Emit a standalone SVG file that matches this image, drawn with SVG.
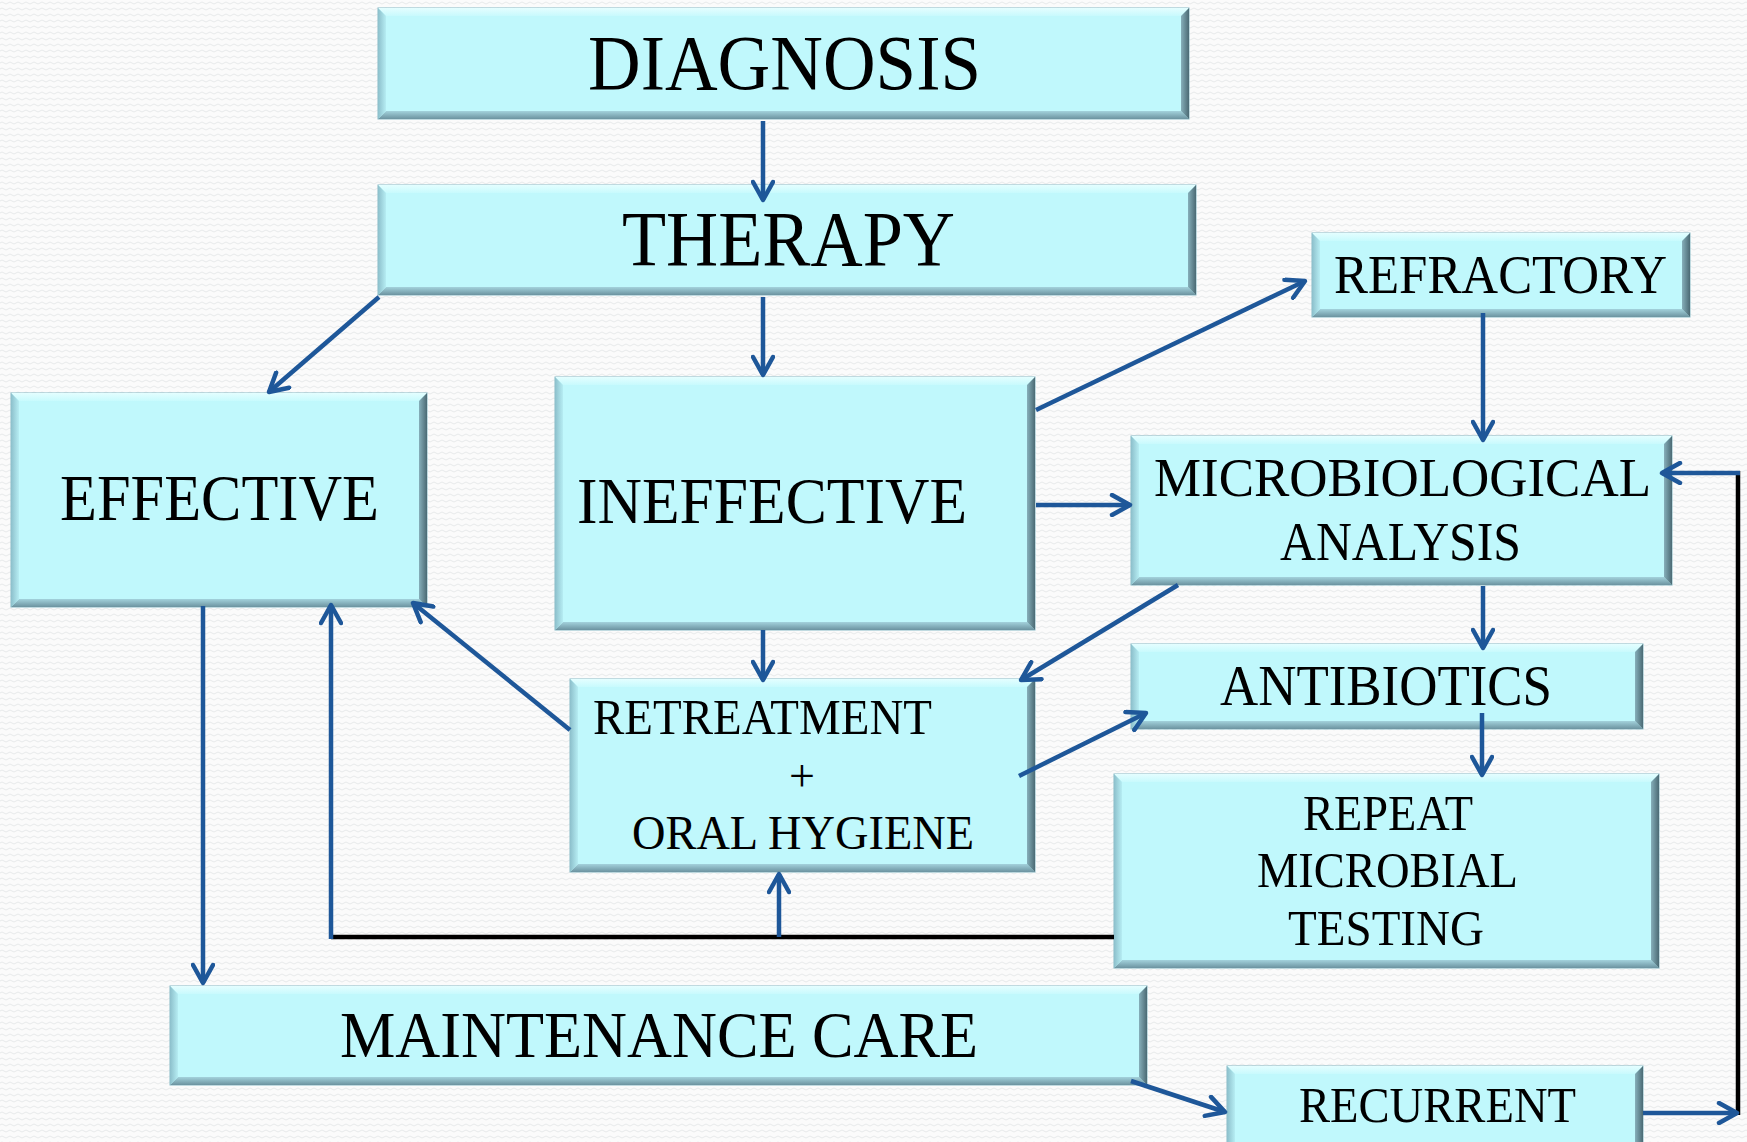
<svg xmlns="http://www.w3.org/2000/svg" width="1747" height="1142" viewBox="0 0 1747 1142">
<defs>
<pattern id="bgp" width="8" height="6" patternUnits="userSpaceOnUse">
<rect width="8" height="6" fill="#FBFBFB"/>
<path d="M0,3 Q2,1 4,3 T8,3" fill="none" stroke="#E4E6E8" stroke-width="0.9"/>
</pattern>
<linearGradient id="gTop" x1="0" y1="0" x2="0" y2="1"><stop offset="0" stop-color="#E4FEFF"/><stop offset="1" stop-color="#C8FAFD"/></linearGradient>
<linearGradient id="gBot" x1="0" y1="0" x2="0" y2="1"><stop offset="0" stop-color="#A3D2DC"/><stop offset="1" stop-color="#6C93A0"/></linearGradient>
<linearGradient id="gLeft" x1="0" y1="0" x2="1" y2="0"><stop offset="0" stop-color="#8CBFCB"/><stop offset="1" stop-color="#B6EDF3"/></linearGradient>
<linearGradient id="gRight" x1="0" y1="0" x2="1" y2="0"><stop offset="0" stop-color="#86AFBA"/><stop offset="1" stop-color="#4B6A74"/></linearGradient>
<marker id="arr" viewBox="0 0 24 24" markerWidth="24" markerHeight="24" refX="21" refY="12" orient="auto" markerUnits="userSpaceOnUse">
<path d="M3,2 L21,12 L3,22" fill="none" stroke="#1E5799" stroke-width="4.5" stroke-linecap="round" stroke-linejoin="round"/>
</marker>
<style>
.base{fill:#C0F8FC;stroke:#86B9C6;stroke-width:1}
.t{fill:url(#gTop)}
.b{fill:url(#gBot)}
.l{fill:url(#gLeft)}
.r{fill:url(#gRight)}
.lbl{font-family:"Liberation Serif","Times New Roman",serif;fill:#000}
.ca{fill:none;stroke:#1E5799;stroke-width:4.5;marker-end:url(#arr)}
.k{fill:none;stroke:#000;stroke-width:4.5}
</style>
</defs>
<rect width="1747" height="1142" fill="url(#bgp)"/>

<g id="diagnosis">
<rect class="base" x="378" y="8" width="811" height="111"/>
<polygon class="t" points="378,8 1189,8 1181,16 386,16"/>
<polygon class="b" points="378,119 1189,119 1181,111 386,111"/>
<polygon class="l" points="378,8 386,16 386,111 378,119"/>
<polygon class="r" points="1189,8 1181,16 1181,111 1189,119"/>
<text class="lbl" x="588" y="89" font-size="79" textLength="393" lengthAdjust="spacingAndGlyphs">DIAGNOSIS</text>
</g>

<g id="therapy">
<rect class="base" x="378" y="185" width="818" height="110"/>
<polygon class="t" points="378,185 1196,185 1188,193 386,193"/>
<polygon class="b" points="378,295 1196,295 1188,287 386,287"/>
<polygon class="l" points="378,185 386,193 386,287 378,295"/>
<polygon class="r" points="1196,185 1188,193 1188,287 1196,295"/>
<text class="lbl" x="622" y="265" font-size="79" textLength="333" lengthAdjust="spacingAndGlyphs">THERAPY</text>
</g>

<g id="effective">
<rect class="base" x="11" y="393" width="416" height="214"/>
<polygon class="t" points="11,393 427,393 419,401 19,401"/>
<polygon class="b" points="11,607 427,607 419,599 19,599"/>
<polygon class="l" points="11,393 19,401 19,599 11,607"/>
<polygon class="r" points="427,393 419,401 419,599 427,607"/>
<text class="lbl" x="60" y="520" font-size="65" textLength="319" lengthAdjust="spacingAndGlyphs">EFFECTIVE</text>
</g>

<g id="ineffective">
<rect class="base" x="555" y="377" width="480" height="253"/>
<polygon class="t" points="555,377 1035,377 1027,385 563,385"/>
<polygon class="b" points="555,630 1035,630 1027,622 563,622"/>
<polygon class="l" points="555,377 563,385 563,622 555,630"/>
<polygon class="r" points="1035,377 1027,385 1027,622 1035,630"/>
<text class="lbl" x="577" y="523" font-size="66" textLength="390" lengthAdjust="spacingAndGlyphs">INEFFECTIVE</text>
</g>

<g id="refractory">
<rect class="base" x="1312" y="233" width="378" height="84"/>
<polygon class="t" points="1312,233 1690,233 1682,241 1320,241"/>
<polygon class="b" points="1312,317 1690,317 1682,309 1320,309"/>
<polygon class="l" points="1312,233 1320,241 1320,309 1312,317"/>
<polygon class="r" points="1690,233 1682,241 1682,309 1690,317"/>
<text class="lbl" x="1334" y="293" font-size="55" textLength="333" lengthAdjust="spacingAndGlyphs">REFRACTORY</text>
</g>

<g id="microbiological">
<rect class="base" x="1131" y="436" width="541" height="149"/>
<polygon class="t" points="1131,436 1672,436 1664,444 1139,444"/>
<polygon class="b" points="1131,585 1672,585 1664,577 1139,577"/>
<polygon class="l" points="1131,436 1139,444 1139,577 1131,585"/>
<polygon class="r" points="1672,436 1664,444 1664,577 1672,585"/>
<text class="lbl" x="1154" y="496" font-size="55" textLength="497" lengthAdjust="spacingAndGlyphs">MICROBIOLOGICAL</text>
<text class="lbl" x="1280" y="560" font-size="55" textLength="241" lengthAdjust="spacingAndGlyphs">ANALYSIS</text>
</g>

<g id="antibiotics">
<rect class="base" x="1131" y="644" width="512" height="85"/>
<polygon class="t" points="1131,644 1643,644 1635,652 1139,652"/>
<polygon class="b" points="1131,729 1643,729 1635,721 1139,721"/>
<polygon class="l" points="1131,644 1139,652 1139,721 1131,729"/>
<polygon class="r" points="1643,644 1635,652 1635,721 1643,729"/>
<text class="lbl" x="1220" y="705" font-size="56" textLength="332" lengthAdjust="spacingAndGlyphs">ANTIBIOTICS</text>
</g>

<g id="repeat">
<rect class="base" x="1114" y="774" width="545" height="194"/>
<polygon class="t" points="1114,774 1659,774 1651,782 1122,782"/>
<polygon class="b" points="1114,968 1659,968 1651,960 1122,960"/>
<polygon class="l" points="1114,774 1122,782 1122,960 1114,968"/>
<polygon class="r" points="1659,774 1651,782 1651,960 1659,968"/>
<text class="lbl" x="1303" y="830" font-size="50" textLength="170" lengthAdjust="spacingAndGlyphs">REPEAT</text>
<text class="lbl" x="1257" y="887" font-size="50" textLength="261" lengthAdjust="spacingAndGlyphs">MICROBIAL</text>
<text class="lbl" x="1288" y="945" font-size="50" textLength="196" lengthAdjust="spacingAndGlyphs">TESTING</text>
</g>

<g id="retreatment">
<rect class="base" x="570" y="679" width="465" height="193"/>
<polygon class="t" points="570,679 1035,679 1027,687 578,687"/>
<polygon class="b" points="570,872 1035,872 1027,864 578,864"/>
<polygon class="l" points="570,679 578,687 578,864 570,872"/>
<polygon class="r" points="1035,679 1027,687 1027,864 1035,872"/>
<text class="lbl" x="593" y="734" font-size="50" textLength="339" lengthAdjust="spacingAndGlyphs">RETREATMENT</text>
<text class="lbl" x="789" y="791" font-size="46">+</text>
<text class="lbl" x="632" y="849" font-size="49" textLength="342" lengthAdjust="spacingAndGlyphs">ORAL HYGIENE</text>
</g>

<g id="maintenance">
<rect class="base" x="170" y="986" width="977" height="99"/>
<polygon class="t" points="170,986 1147,986 1139,994 178,994"/>
<polygon class="b" points="170,1085 1147,1085 1139,1077 178,1077"/>
<polygon class="l" points="170,986 178,994 178,1077 170,1085"/>
<polygon class="r" points="1147,986 1139,994 1139,1077 1147,1085"/>
<text class="lbl" x="340" y="1057" font-size="66" textLength="638" lengthAdjust="spacingAndGlyphs">MAINTENANCE CARE</text>
</g>

<g id="recurrent">
<rect class="base" x="1227" y="1066" width="416" height="90"/>
<polygon class="t" points="1227,1066 1643,1066 1635,1074 1235,1074"/>
<polygon class="l" points="1227,1066 1235,1074 1235,1156 1227,1156"/>
<polygon class="r" points="1643,1066 1635,1074 1635,1156 1643,1156"/>
<text class="lbl" x="1299" y="1122" font-size="51" textLength="277" lengthAdjust="spacingAndGlyphs">RECURRENT</text>
</g>

<g id="connectors">
<path class="k" d="M331,937 H1114"/>
<path class="k" d="M1738,1115 V471"/>
<path class="ca" d="M763,121 V200"/>
<path class="ca" d="M763,297 V375"/>
<path class="ca" d="M379,297 L269,392"/>
<path class="ca" d="M1036,410 L1305,281"/>
<path class="ca" d="M1036,505 H1130"/>
<path class="ca" d="M1483,313 V440"/>
<path class="ca" d="M1483,586 V648"/>
<path class="ca" d="M1482,713 V775"/>
<path class="ca" d="M1178,585 L1021,680"/>
<path class="ca" d="M1019,776 L1146,713"/>
<path class="ca" d="M763,630 V680"/>
<path class="ca" d="M570,730 L413,603"/>
<path class="ca" d="M203,606 V983"/>
<path class="ca" d="M331,939 V605"/>
<path class="ca" d="M779,937 V874"/>
<path class="ca" d="M1131,1081 L1225,1112"/>
<path class="ca" d="M1643,1113 H1737"/>
<path class="ca" d="M1740,473 H1662"/>
</g>
</svg>
